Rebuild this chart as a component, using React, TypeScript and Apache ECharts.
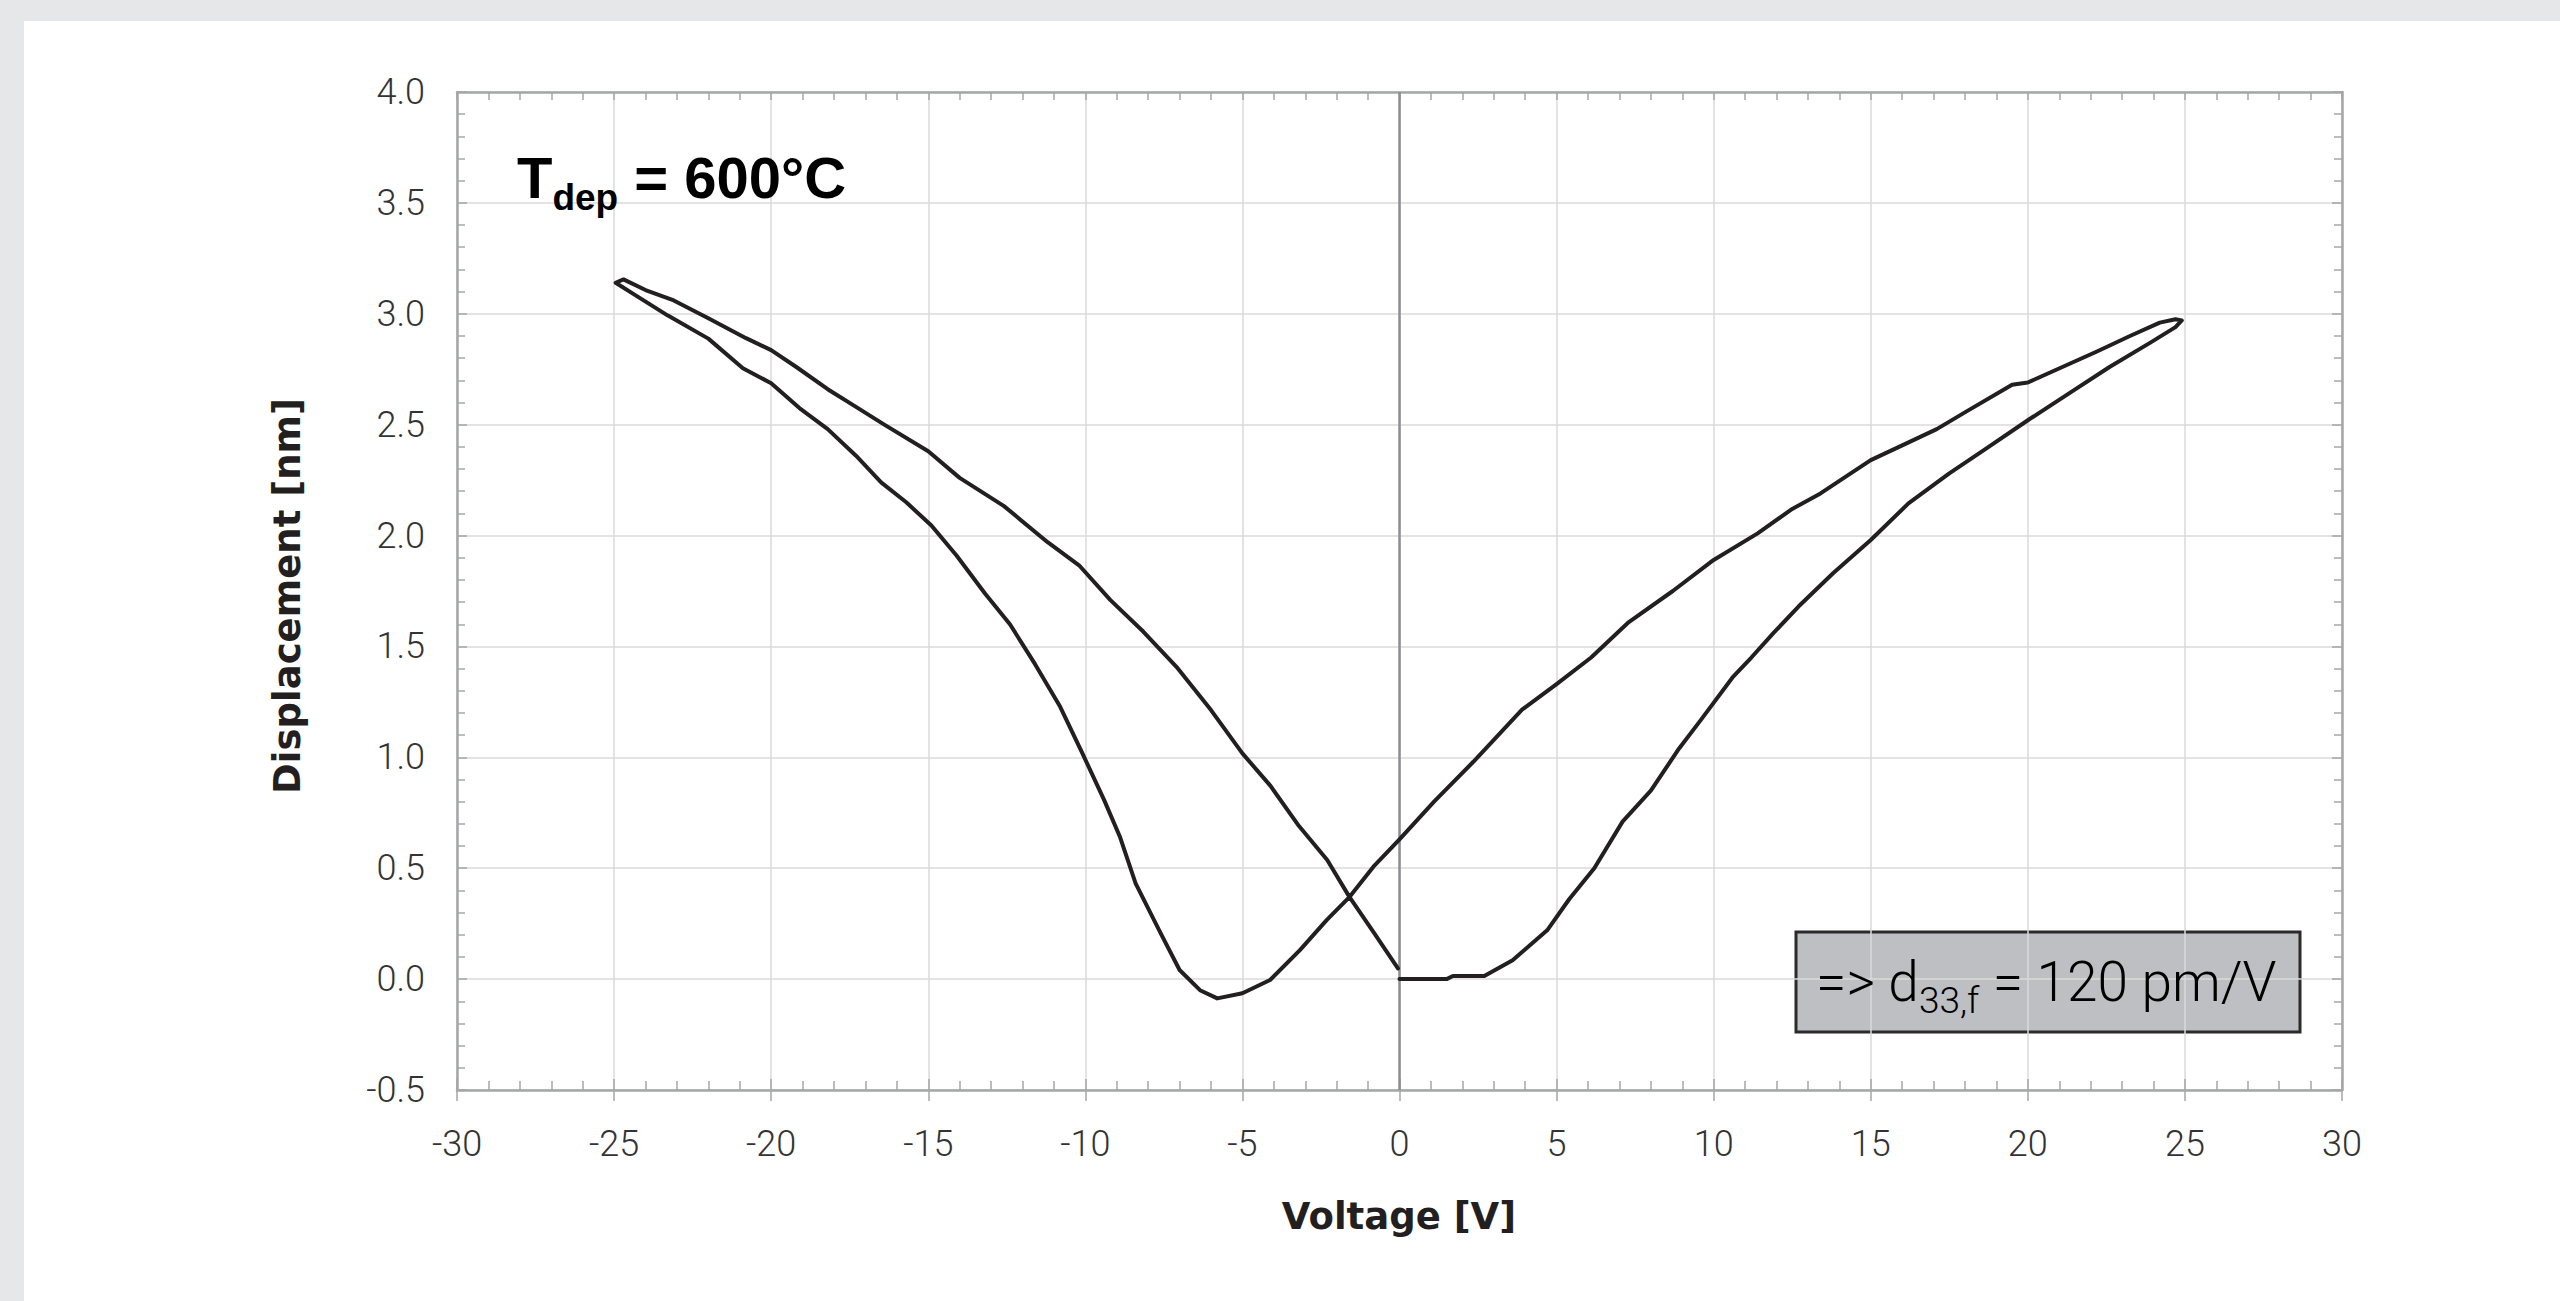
import React, { useEffect, useRef } from "react";
import * as echarts from "echarts";

// Voltage sweep 0 V -> +25 V (lower right branch)
const sweep1V = [0, 1.5, 1.7, 2.7, 3.6, 4.7, 5.4, 6.2, 7.1, 8.0, 8.9, 9.6, 10.6, 11.2, 11.9, 12.7, 13.8, 15.0, 16.2, 17.5, 18.6, 20.0, 21.3, 22.6, 23.9, 24.7, 24.9];
const sweep1D = [0, 0, 0.014, 0.014, 0.085, 0.22, 0.36, 0.5, 0.71, 0.85, 1.04, 1.17, 1.36, 1.45, 1.56, 1.68, 1.83, 1.98, 2.145, 2.28, 2.385, 2.52, 2.64, 2.76, 2.87, 2.94, 2.97];

// Voltage sweep +25 V -> -25 V (upper right branch, through the minimum, lower left branch)
const sweep2V = [24.7, 24.2, 23.25, 22.2, 21.1, 20.0, 19.5, 18.05, 17.1, 15.9, 15.0, 13.4, 12.5, 11.4, 10.0, 8.7, 7.3, 6.1, 5.0, 3.9, 2.35, 1.1, 0,
  -0.83, -1.58, -2.32, -3.17, -4.12, -5.0, -5.8, -6.35, -7.0, -7.6, -8.4, -8.9, -9.4, -10.1, -10.8, -11.6, -12.4, -13.2, -14.1, -14.9, -15.7, -16.5, -17.3, -18.2, -19.1, -20.0, -20.9, -22.0, -23.3, -24.3, -24.95];
const sweep2D = [2.975, 2.96, 2.9, 2.83, 2.76, 2.69, 2.68, 2.56, 2.48, 2.4, 2.34, 2.19, 2.12, 2.01, 1.89, 1.75, 1.61, 1.45, 1.33, 1.215, 0.98, 0.8, 0.63,
  0.507, 0.372, 0.266, 0.131, -0.004, -0.064, -0.087, -0.05, 0.041, 0.206, 0.432, 0.642, 0.807, 1.02, 1.228, 1.42, 1.6, 1.74, 1.91, 2.045, 2.15, 2.24, 2.36, 2.48, 2.575, 2.687, 2.754, 2.888, 2.993, 3.082, 3.14];

// Voltage sweep -25 V -> 0 V (upper left branch)
const sweep3V = [-24.95, -24.7, -24.0, -23.1, -22.0, -20.8, -20.0, -19.2, -18.2, -17.3, -16.4, -15.0, -14.0, -12.6, -11.2, -10.2, -9.2, -8.15, -7.1, -6.0, -5.0, -4.1, -3.2, -2.3, -1.6, -0.8, -0.05];
const sweep3D = [3.14, 3.155, 3.107, 3.06, 2.98, 2.89, 2.836, 2.76, 2.66, 2.58, 2.5, 2.38, 2.26, 2.134, 1.97, 1.866, 1.709, 1.566, 1.408, 1.213, 1.018, 0.87, 0.69, 0.537, 0.372, 0.206, 0.048];

const xTickMin = -30;
const xTickMax = 30;
const xTickStep = 5;
const yTickMin = -0.5;
const yTickMax = 4.0;
const yTickStep = 0.5;

const xTitle = "Voltage [V]";
const yTitle = "Displacement [nm]";

const zip = (v: number[], d: number[]) => v.map((x, i) => [x, d[i]]);

export default function App() {
  const ref = useRef<HTMLDivElement>(null);

  useEffect(() => {
    const chart = echarts.init(ref.current!, null, { renderer: "svg" });
    const loop = [...zip(sweep1V, sweep1D), ...zip(sweep2V, sweep2D), ...zip(sweep3V, sweep3D)];

    const axisGrey = "#a5a6aa";
    const gridGrey = "#dadada";
    const labelStyle = {
      fontFamily: "Roboto",
      fontWeight: 300,
      fontSize: 36,
      color: "#333333",
    };
    const tickLine = { color: axisGrey, width: 1.5 };

    chart.setOption({
      animation: false,
      grid: { left: 457, top: 92, width: 1885, height: 998, containLabel: false },
      xAxis: [
        {
          type: "value",
          min: xTickMin,
          max: xTickMax,
          interval: xTickStep,
          position: "bottom",
          axisLine: { show: true, onZero: false, lineStyle: { color: axisGrey, width: 2.5 } },
          axisTick: { show: true, inside: false, length: 11, lineStyle: tickLine },
          minorTick: { show: false },
          splitLine: { show: true, lineStyle: { color: gridGrey, width: 1.5 } },
          axisLabel: { ...labelStyle, margin: 36 },
        },
        {
          type: "value",
          min: xTickMin,
          max: xTickMax,
          interval: xTickStep,
          position: "bottom",
          axisLine: { show: false, onZero: false },
          axisTick: { show: true, inside: true, length: 11, lineStyle: tickLine },
          minorTick: { show: true, splitNumber: 5, length: 9, lineStyle: tickLine },
          splitLine: { show: false },
          axisLabel: { show: false },
        },
        {
          type: "value",
          min: xTickMin,
          max: xTickMax,
          interval: xTickStep,
          position: "top",
          axisLine: { show: true, onZero: false, lineStyle: { color: axisGrey, width: 2.5 } },
          axisTick: { show: true, inside: true, length: 8, lineStyle: tickLine },
          minorTick: { show: true, splitNumber: 5, length: 8, lineStyle: tickLine },
          splitLine: { show: false },
          axisLabel: { show: false },
        },
      ],
      yAxis: [
        {
          type: "value",
          min: yTickMin,
          max: yTickMax,
          interval: yTickStep,
          position: "left",
          axisLine: { show: true, onZero: false, lineStyle: { color: axisGrey, width: 2.5 } },
          axisTick: { show: true, inside: true, length: 10, lineStyle: tickLine },
          minorTick: { show: true, splitNumber: 5, length: 8, lineStyle: tickLine },
          splitLine: { show: true, lineStyle: { color: gridGrey, width: 1.5 } },
          axisLabel: { ...labelStyle, margin: 32, formatter: (v: number) => v.toFixed(1) },
        },
        {
          type: "value",
          min: yTickMin,
          max: yTickMax,
          interval: yTickStep,
          position: "right",
          axisLine: { show: true, onZero: false, lineStyle: { color: axisGrey, width: 2.5 } },
          axisTick: { show: true, inside: true, length: 10, lineStyle: tickLine },
          minorTick: { show: true, splitNumber: 5, length: 8, lineStyle: tickLine },
          splitLine: { show: false },
          axisLabel: { show: false },
        },
      ],
      series: [
        {
          type: "line",
          xAxisIndex: 0,
          yAxisIndex: 0,
          data: loop,
          symbol: "none",
          showSymbol: false,
          smooth: false,
          z: 5,
          lineStyle: { color: "#231f20", width: 4, join: "round", cap: "round" },
          markLine: {
            silent: true,
            animation: false,
            symbol: ["none", "none"],
            label: { show: false },
            lineStyle: { color: "#8d8e92", width: 2.5, type: "solid" },
            data: [{ xAxis: 0 }],
          },
        },
      ],
      graphic: [
        {
          type: "rect",
          z: -1,
          shape: { x: 1796, y: 932, width: 504, height: 100 },
          style: { fill: "#bebfc3", stroke: "#2b2b2b", lineWidth: 3 },
        },
        {
          type: "text",
          z: 20,
          x: 1816,
          y: 982,
          style: {
            text: "{a|=> d}{b|33,f}{a| = 120 pm/V}",
            verticalAlign: "middle",
            align: "left",
            rich: {
              a: { fontFamily: "Roboto", fontWeight: 300, fontSize: 55, color: "#2a2a2a" },
              b: { fontFamily: "Roboto", fontWeight: 300, fontSize: 37, color: "#2a2a2a", padding: [37, 0, 0, 0] },
            },
          },
        },
        {
          type: "text",
          z: 20,
          x: 517,
          y: 177,
          style: {
            text: "{t|T}{s|dep}{t| = 600°C}",
            verticalAlign: "middle",
            align: "left",
            rich: {
              t: { fontFamily: "Liberation Sans", fontWeight: "bold", fontSize: 58, color: "#231f20" },
              s: { fontFamily: "Liberation Sans", fontWeight: "bold", fontSize: 37, color: "#231f20", padding: [40, 0, 0, 0] },
            },
          },
        },
        {
          type: "text",
          z: 20,
          x: 1399,
          y: 1216,
          style: {
            text: xTitle,
            align: "center",
            verticalAlign: "middle",
            fontFamily: "DejaVu Sans",
            fontWeight: "bold",
            fontSize: 37,
            fill: "#231f20",
          },
        },
        {
          type: "text",
          z: 20,
          x: 287,
          y: 596,
          rotation: Math.PI / 2,
          style: {
            text: yTitle,
            align: "center",
            verticalAlign: "middle",
            fontFamily: "DejaVu Sans",
            fontWeight: "bold",
            fontSize: 37,
            fill: "#231f20",
          },
        },
      ],
    });

    return () => chart.dispose();
  }, []);

  return (
    <div style={{ position: "fixed", left: 0, top: 0, width: 2560, height: 1301, background: "#e6e7e9", overflow: "hidden" }}>
      <div style={{ position: "absolute", left: 24, top: 21, width: 2536, height: 1280, background: "#ffffff" }} />
      <div ref={ref} style={{ position: "absolute", left: 0, top: 0, width: 2560, height: 1301 }} />
    </div>
  );
}
